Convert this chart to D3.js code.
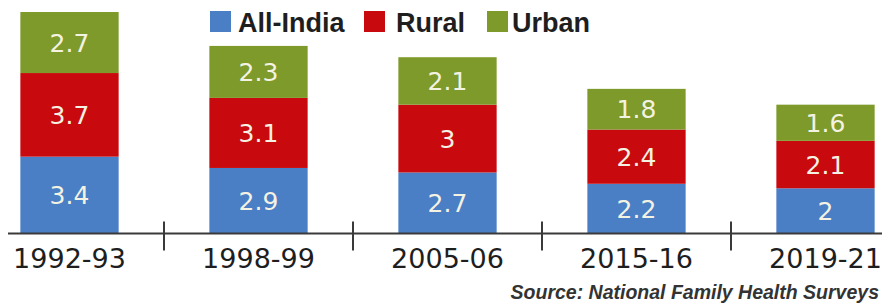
<!DOCTYPE html>
<html>
<head>
<meta charset="utf-8">
<script src="https://cdn.jsdelivr.net/npm/d3@7/dist/d3.min.js"></script>
<style>
  html, body { margin: 0; padding: 0; background: #fff; }
  svg { display: block; }
</style>
</head>
<body>
<div id="chart"></div>
<script>
// survey rounds and stacked values (bottom to top)
const years = ["1992-93", "1998-99", "2005-06", "2015-16", "2019-21"]
const allIndia = [3.4, 2.9, 2.7, 2.2, 2]
const rural = [3.7, 3.1, 3, 2.4, 2.1]
const urban = [2.7, 2.3, 2.1, 1.8, 1.6]
const seriesNames = ["All-India", "Rural", "Urban"]

const COLORS = {
  "All-India": "#4a7fc6",
  "Rural":     "#c80a0e",
  "Urban":     "#7d9a2a",
}

const W = 882, H = 307
const baseY = 233.5

const svg = d3.select("#chart").append("svg")
  .attr("width", W)
  .attr("height", H)

const x = d3.scaleBand()
  .domain(years)
  .range([-25, 920])
  .paddingInner(0.48)
  .paddingOuter(0.24)

const y = d3.scaleLinear()
  .domain([0, 10])
  .range([baseY, baseY - 226])

const rows = years.map((yr, i) => ({
  year: yr,
  "All-India": allIndia[i],
  "Rural": rural[i],
  "Urban": urban[i],
}))

const stacked = d3.stack().keys(seriesNames)(rows)

// bars
const layer = svg.append("g").selectAll("g")
  .data(stacked)
  .join("g")
  .attr("fill", d => COLORS[d.key])

layer.selectAll("rect")
  .data(d => d)
  .join("rect")
  .attr("x", d => x(d.data.year))
  .attr("width", x.bandwidth())
  .attr("y", d => y(d[1]))
  .attr("height", d => y(d[0]) - y(d[1]))

// value labels
layer.selectAll("text")
  .data(d => d.map(v => ({ v, key: d.key })))
  .join("text")
  .attr("x", d => x(d.v.data.year) + x.bandwidth() / 2)
  .attr("y", d => (y(d.v[0]) + y(d.v[1])) / 2)
  .attr("dy", "0.36em")
  .attr("text-anchor", "middle")
  .attr("font-family", "DejaVu Sans, sans-serif")
  .attr("font-size", 25)
  .attr("fill", "#f4f2e2")
  .text(d => d.v.data[d.key])

// axis line
svg.append("line")
  .attr("x1", 8).attr("x2", W)
  .attr("y1", baseY).attr("y2", baseY)
  .attr("stroke", "#3a3a3a")
  .attr("stroke-width", 2)

// separator ticks between categories
svg.append("g").selectAll("line")
  .data(years.slice(1))
  .join("line")
  .attr("x1", d => x(d) - x.step() * x.paddingInner() / 2)
  .attr("x2", d => x(d) - x.step() * x.paddingInner() / 2)
  .attr("y1", baseY - 12)
  .attr("y2", baseY + 17)
  .attr("stroke", "#3a3a3a")
  .attr("stroke-width", 2)

// category labels
svg.append("g").selectAll("text")
  .data(years)
  .join("text")
  .attr("x", d => x(d) + x.bandwidth() / 2)
  .attr("y", 268)
  .attr("text-anchor", "middle")
  .attr("font-family", "DejaVu Sans, sans-serif")
  .attr("font-size", 27)
  .attr("fill", "#1e1e1e")
  .text(d => d)

// legend
const legendItems = [
  { name: "All-India", sx: 210, tx: 238 },
  { name: "Rural", sx: 364, tx: 396 },
  { name: "Urban", sx: 487, tx: 512 },
]
const legend = svg.append("g")
legend.selectAll("rect")
  .data(legendItems)
  .join("rect")
  .attr("x", d => d.sx)
  .attr("y", 11)
  .attr("width", 21)
  .attr("height", 21)
  .attr("fill", d => COLORS[d.name])
legend.selectAll("text")
  .data(legendItems)
  .join("text")
  .attr("x", d => d.tx)
  .attr("y", 32)
  .attr("font-family", "Liberation Sans, Arial, sans-serif")
  .attr("font-weight", "bold")
  .attr("font-size", 27)
  .attr("fill", "#1e1e1e")
  .text(d => d.name)

// source note
svg.append("text")
  .attr("x", 879)
  .attr("y", 299)
  .attr("text-anchor", "end")
  .attr("font-family", "Liberation Sans, Arial, sans-serif")
  .attr("font-style", "italic")
  .attr("font-weight", "bold")
  .attr("font-size", 19.5)
  .attr("fill", "#333")
  .text("Source: National Family Health Surveys")
</script>
</body>
</html>
